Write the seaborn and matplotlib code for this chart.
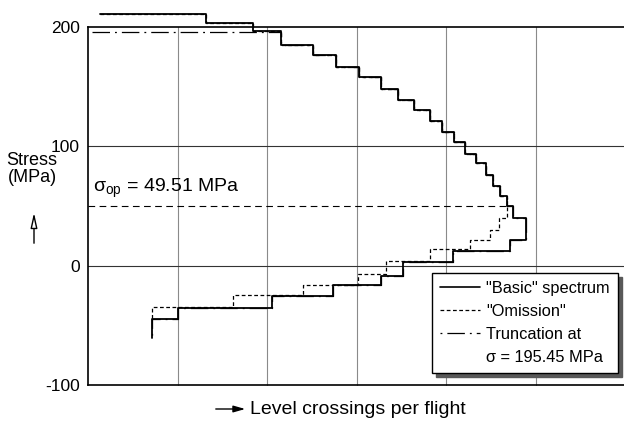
import numpy as np
import pandas as pd
import seaborn as sns
import matplotlib.pyplot as plt
from matplotlib.lines import Line2D
from matplotlib.ticker import NullLocator
from matplotlib import font_manager

sns.set_style("white")
plt.rcParams["font.family"] = ["Liberation Sans", "DejaVu Sans"]
plt.rcParams["mathtext.fontset"] = "custom"
plt.rcParams["mathtext.rm"] = "Liberation Sans"
plt.rcParams["text.color"] = "black"
plt.rcParams["ytick.color"] = "black"
plt.rcParams["xtick.color"] = "black"

# "Basic" spectrum: stress levels (MPa) and level crossings per flight
peak_start = 1.36e-4
upper_levels = [211, 203.5, 196.5, 185, 176.5, 166, 157.5, 148, 138.5, 130,
                121, 112, 103.5, 93.5, 85.5, 76, 67, 58, 50, 39.5]
upper_crossings = [2.06e-3, 7.0e-3, 1.43e-2, 3.21e-2, 5.86e-2, 0.107, 0.186,
                   0.286, 0.439, 0.656, 0.899, 1.21, 1.63, 2.14, 2.77, 3.29,
                   3.96, 4.71, 5.58, 7.64]
lower_levels = [21.5, 12, 3, -8.5, -16.5, -25.5, -35.5, -45]
lower_crossings = [5.19, 1.19, 0.324, 0.186, 0.0547, 0.0112, 1.0e-3, 5.14e-4]
valley_end = -61

# "Omission" spectrum: branches off below the 58 MPa level
omission_branch_level = 58
omission_levels = [39.5, 30, 21, 13.5, 3.5, -7, -16, -25, -34.5]
omission_crossings = [3.89, 3.07, 1.83, 0.656, 0.212, 0.104, 0.0253, 4.19e-3, 5.14e-4]
omission_end = -45

# Truncation of the peaks
truncation_level = 195.45
truncation_start = 1.1e-4

sigma_op = 49.51

legend_labels = ['"Basic" spectrum', '"Omission"', 'Truncation at', 'σ = 195.45 MPa']
y_ticks = [-100, 0, 100, 200]
grid_crossings = [1e-3, 1e-2, 1e-1, 1e0, 1e1]


def staircase(x0, up_lv, up_x, lo_lv, lo_x, y_end):
    xs, ys = [x0], [up_lv[0]]
    for i, (lv, x) in enumerate(zip(up_lv, up_x)):
        nxt = up_lv[i + 1] if i + 1 < len(up_lv) else lo_lv[0]
        xs += [x, x]
        ys += [lv, nxt]
    for i, (lv, x) in enumerate(zip(lo_lv, lo_x)):
        nxt = lo_lv[i + 1] if i + 1 < len(lo_lv) else y_end
        xs += [x, x]
        ys += [lv, nxt]
    return pd.DataFrame({"crossings": xs, "stress": ys})


k = upper_levels.index(omission_branch_level) + 1
basic = staircase(peak_start, upper_levels, upper_crossings,
                  lower_levels, lower_crossings, valley_end)
omission = staircase(peak_start, upper_levels[:k], upper_crossings[:k],
                     omission_levels, omission_crossings, omission_end)
truncated = staircase(truncation_start, [truncation_level] + upper_levels[3:],
                      upper_crossings[2:], lower_levels, lower_crossings, valley_end)

fig = plt.figure(figsize=(6.24, 4.26), dpi=100)
ax = fig.add_axes([88 / 624, 1 - 385 / 426, 537.6 / 624, 358.3 / 426])
ax.set_xscale("log")
ax.set_xlim(1e-4, 1e2)
ax.set_ylim(-100, 200)

for gx in grid_crossings:
    ax.axvline(gx, color="#8a8a8a", lw=0.8, zorder=0)
for gy in (0, 100):
    ax.axhline(gy, color="#333333", lw=0.8, zorder=0)

dash_omit = (0, (3, 2))
dash_trunc = (0, (14, 4, 1.5, 4))
sns.lineplot(data=omission, x="crossings", y="stress", sort=False, estimator=None,
             ax=ax, color="black", lw=0.9, linestyle=dash_omit)
sns.lineplot(data=truncated, x="crossings", y="stress", sort=False, estimator=None,
             ax=ax, color="black", lw=0.9, linestyle=dash_trunc)
sns.lineplot(data=basic, x="crossings", y="stress", sort=False, estimator=None,
             ax=ax, color="black", lw=1.3)
for ln in ax.lines:
    ln.set_clip_on(False)

ax.hlines(sigma_op, 1e-4, upper_crossings[k - 1], colors="black", lw=0.8,
          linestyles=(0, (6, 4)))

for side in ("left", "bottom", "top"):
    ax.spines[side].set_color("black")
    ax.spines[side].set_linewidth(1.2)
ax.spines["right"].set_visible(False)

ax.set_yticks(y_ticks)
ax.set_yticklabels([str(v) for v in y_ticks], fontsize=12.5)
ax.tick_params(axis="y", length=0, pad=6)
ax.set_xticks([])
ax.xaxis.set_minor_locator(NullLocator())
ax.set_xlabel("")
ax.set_ylabel("")

# Legend set in a condensed face when available
installed = {f.name for f in font_manager.fontManager.ttflist}
if "Liberation Sans Narrow" in installed:
    legend_font = {"family": ["Liberation Sans Narrow", "DejaVu Sans"], "size": 13.8}
else:
    legend_font = {"family": ["Liberation Sans", "DejaVu Sans"], "size": 11.8}

handles = [
    Line2D([], [], color="black", lw=1.2),
    Line2D([], [], color="black", lw=0.9, linestyle=dash_omit),
    Line2D([], [], color="black", lw=0.9, linestyle=(0, (1.5, 4, 14, 4))),
    Line2D([], [], color="none"),
]
leg = ax.legend(handles, legend_labels, loc="lower right",
                bbox_to_anchor=(0.986, 0.0335), borderaxespad=0,
                fancybox=False, framealpha=1, edgecolor="black",
                shadow={"ox": 3, "oy": -3, "color": "0.35", "alpha": 1},
                prop=legend_font, handlelength=2.4, handletextpad=0.4,
                labelspacing=0.48, borderpad=0.5)
leg.get_frame().set_linewidth(1.0)

fig.text(93 / 624, 1 - 192 / 426, "σ$_{\\mathregular{op}}$ = 49.51 MPa",
         fontsize=14, va="baseline", ha="left")
fig.text(32 / 624, 1 - 169 / 426, "Stress\n(MPa)", fontsize=13,
         ha="center", va="center", linespacing=1.0)
ax.annotate("", xy=(34, 426 - 210), xytext=(34, 426 - 246),
            xycoords="figure pixels", textcoords="figure pixels",
            arrowprops=dict(arrowstyle="-|>,head_length=0.9,head_width=0.2",
                            ec="black", fc="white", lw=1.0), annotation_clip=False)
ax.annotate("", xy=(248, 426 - 409), xytext=(213, 426 - 409),
            xycoords="figure pixels", textcoords="figure pixels",
            arrowprops=dict(arrowstyle="-|>,head_length=0.7,head_width=0.2",
                            color="black", lw=1.0), annotation_clip=False)
fig.text(250 / 624, 1 - 409 / 426, "Level crossings per flight", fontsize=14,
         ha="left", va="center")

fig.savefig("out.png", dpi=100)
